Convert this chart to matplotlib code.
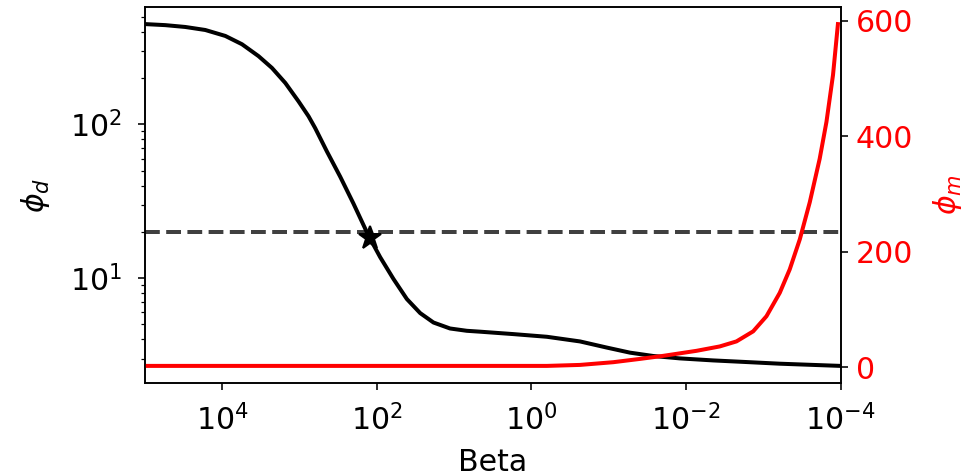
import numpy as np
import matplotlib.pyplot as plt

# ************ values ************
beta_d = [1e5, 5.46e4, 3.01e4, 1.66e4, 9.14e3, 5.56e3, 3.40e3, 2.28e3, 1.53e3,
          1.03e3, 766, 628, 443, 298, 201, 129, 90.6, 61.0, 40.9, 27.5,
          18.5, 11.3, 6.86, 4.62, 1.71, 0.63, 0.235, 0.106, 0.053, 0.0265,
          0.012, 0.00445, 0.00165, 0.00061, 0.000226, 1e-4]
phi_d = [449, 442, 430, 411, 376, 332, 278, 233, 186,
         141, 113, 94.6, 66.7, 45.7, 30.6, 19.0, 13.7, 9.89, 7.32, 5.93,
         5.15, 4.71, 4.55, 4.49, 4.33, 4.16, 3.88, 3.54, 3.28, 3.12,
         3.01, 2.92, 2.85, 2.78, 2.73, 2.69]

beta_m = [1e5, 1e3, 4.6, 0.63, 0.235, 0.0873, 0.0394, 0.0197, 0.0073, 0.00365,
          0.00222, 0.00135, 0.000908, 0.000611, 0.000454, 0.000336, 0.00025,
          0.000186, 0.000152, 0.000125, 0.000108]
phi_m = [2.3, 2.3, 2.3, 2.3, 4.0, 8.7, 14.4, 19.7, 28.4, 36.0,
         44.7, 62.1, 88.3, 128.8, 169.4, 221.6, 285.5,
         360.8, 424.7, 506, 594]

target = 20.0
beta_star = 122
phi_star = 18.3

# ************ plot ************
fig = plt.figure(figsize=(963 / 144, 476 / 144), dpi=144)
ax = fig.add_axes([0.1506, 0.1954, 0.7222, 0.7899])

ax.loglog(beta_d, phi_d, 'k', lw=2)
ax.axhline(target, color='k', ls='--', lw=2, alpha=0.75)
ax.plot(beta_star, phi_star, 'k*', ms=12)
ax.set_xlim(1e5, 1e-4)
ax.xaxis.set_minor_locator(plt.NullLocator())
ax.set_xlabel('Beta', fontsize=15, labelpad=6)
ax.set_ylabel(r'$\phi_d$', fontsize=15, labelpad=9)
ax.tick_params(axis='x', labelsize=15, pad=7)
ax.tick_params(axis='y', labelsize=15, pad=8)

ax2 = ax.twinx()
ax2.plot(beta_m, phi_m, 'r', lw=2)
ax2.set_ylabel(r'$\phi_m$', fontsize=15, color='r', labelpad=9)
ax2.set_yticks([0, 200, 400, 600])
ax2.tick_params(axis='y', labelsize=15, labelcolor='r', pad=4)
ax2.set_xlim(1e5, 1e-4)

fig.savefig('out.png', dpi=144)
